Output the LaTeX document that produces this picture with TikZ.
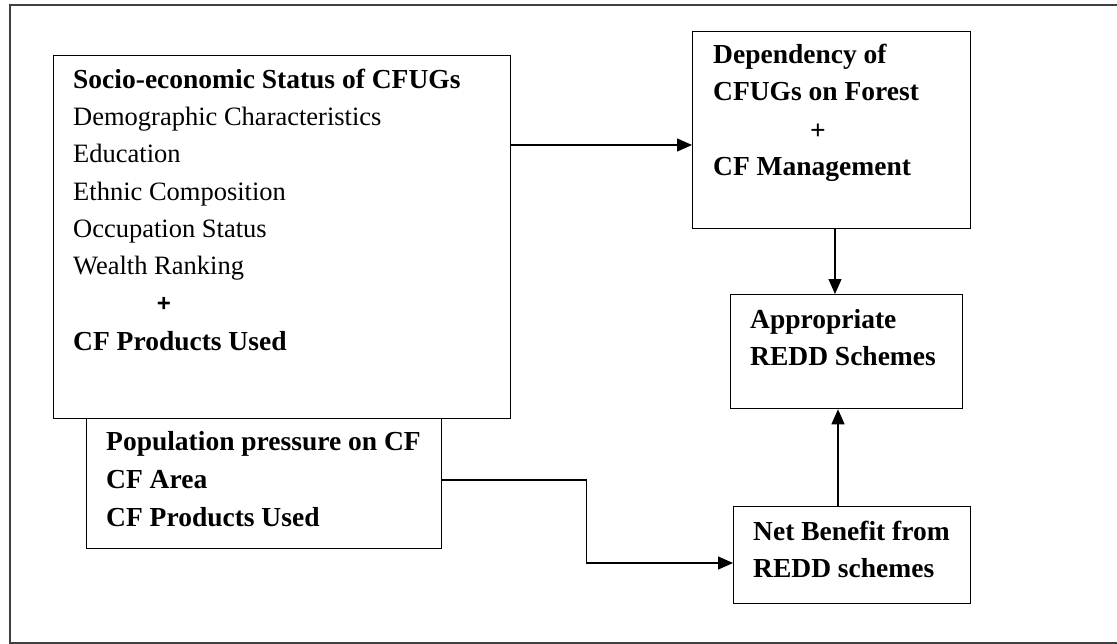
\documentclass[tikz,border=0pt]{standalone}
\usepackage{fontspec}
\setmainfont{Liberation Serif}
\newfontfamily\plusfont{Liberation Sans}
\usetikzlibrary{arrows.meta,calc}
\tikzset{
  box/.style={draw=black, line width=1.3pt, rectangle, inner sep=0pt, anchor=north west},
  frame/.style={draw=black!75, line width=1.6pt, rectangle, inner sep=0pt, anchor=north west},
  txt/.style={anchor=base west, inner sep=0pt, font=\fontsize{26.5}{37}\selectfont},
  btxt/.style={txt, font=\fontsize{27.5}{37}\selectfont\bfseries},
  arr/.style={line width=1.3pt, -{Triangle[length=15pt,width=13pt]}},
  conn/.style={line width=1.3pt}
}
\begin{document}
\begin{tikzpicture}[x=1pt,y=-1pt]
\useasboundingbox (0,0) rectangle (1117,643);
\node[frame, minimum width=1120pt, minimum height=638pt] (F) at (9,4) {};
% boxes
\node[box, minimum width=457pt, minimum height=363pt] (A) at (53,55) {};
\node[box, minimum width=355pt, minimum height=130pt] (B) at (86,418) {};
\node[box, minimum width=278pt, minimum height=197pt] (C) at (692,31) {};
\node[box, minimum width=232pt, minimum height=114pt] (D) at (730,294) {};
\node[box, minimum width=237pt, minimum height=97pt] (E) at (733,506) {};
% texts in A
\node[btxt] (a0) at (73,88) {Socio-economic Status of CFUGs};
\node[txt] (a1) at (73,125) {Demographic Characteristics};
\node[txt] (a2) at (73,162) {Education};
\node[txt] (a3) at (73,200) {Ethnic Composition};
\node[txt] (a4) at (73,237) {Occupation Status};
\node[txt] (a5) at (73,274) {Wealth Ranking};
\node[anchor=base, inner sep=0pt, font=\plusfont\bfseries\fontsize{24}{30}\selectfont] (a6) at (164,311) {+};
\node[btxt] (a7) at (73,350) {CF Products Used};
% texts in B
\node[btxt] (b0) at (106,450) {Population pressure on CF};
\node[btxt] (b1) at (106,488) {CF Area};
\node[btxt] (b2) at (106,526) {CF Products Used};
% texts in C
\node[btxt] (c0) at (713,63) {Dependency of};
\node[btxt] (c1) at (713,100) {CFUGs on Forest};
\node[btxt, anchor=base] (c2) at (818,139) {+};
\node[btxt] (c3) at (713,175) {CF Management};
% texts in D
\node[btxt] (d0) at (750,328) {Appropriate};
\node[btxt] (d1) at (750,365) {REDD Schemes};
% texts in E
\node[btxt] (e0) at (753,540) {Net Benefit from};
\node[btxt] (e1) at (753,577) {REDD schemes};
% connectors
\coordinate (pA) at ([yshift=-90pt]A.north east);
\draw[arr] (pA) -- (pA -| C.west);
\coordinate (pC) at ([xshift=143pt]C.south west);
\draw[arr] (pC) -- (pC |- D.north);
\coordinate (pE) at ([xshift=105pt]E.north west);
\draw[arr] (pE) -- (pE |- D.south);
\coordinate (pB) at ([yshift=-62pt]B.north east);
\coordinate (pE2) at ([yshift=-57pt]E.north west);
\draw[arr] (pB) -- ++(144,0) |- (pE2);
\end{tikzpicture}
\end{document}
